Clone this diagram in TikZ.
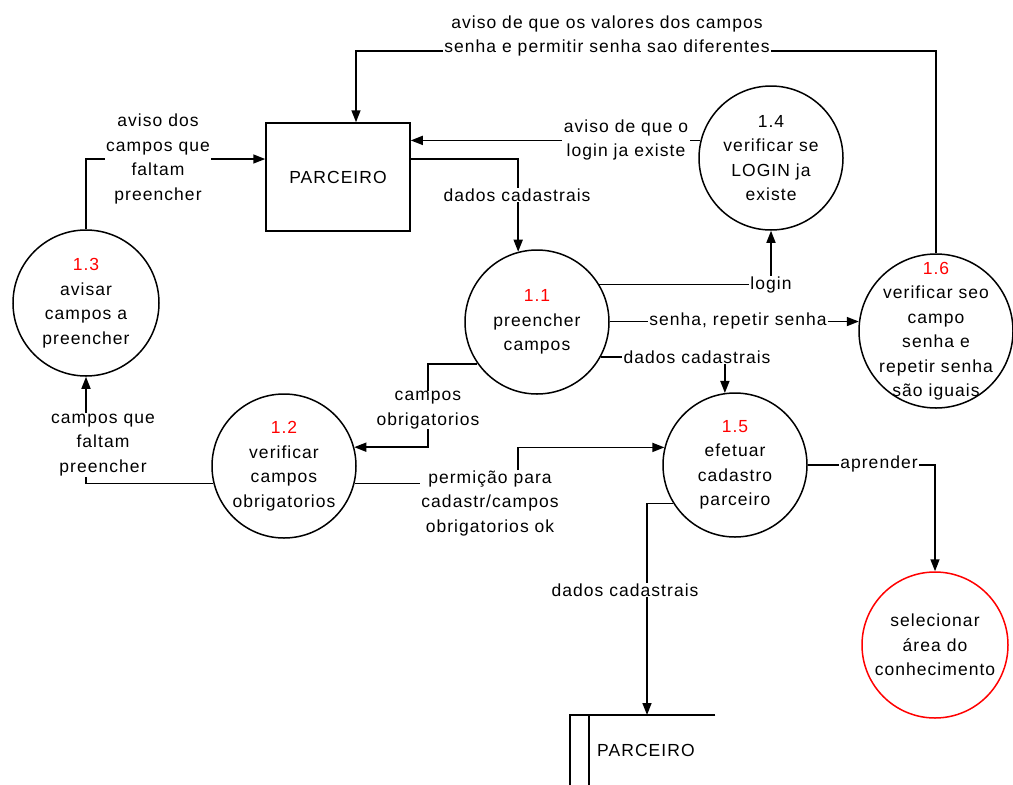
\documentclass[tikz,border=0pt]{standalone}
\usepackage{fontspec}
\setmainfont{Liberation Sans}[LetterSpace=6]
\usetikzlibrary{arrows.meta}
\begin{document}
\begin{tikzpicture}[x=1pt,y=-1pt,
  every node/.style={font=\fontsize{17.5}{24.5}\selectfont},
  proc/.style={circle, draw, line width=1.5pt, minimum size=144pt, inner sep=0pt},
  ptext/.style={align=center, inner sep=0pt},
  flow/.style={line width=1.6pt, -{Triangle[length=12pt,width=9pt]}},
  plain/.style={line width=1.6pt},
  lbl/.style={fill=white, align=center, inner xsep=1.5pt, inner ysep=0.5pt}
]
\useasboundingbox (0,0) rectangle (1013,785);

% external entity
\node[draw, line width=1.5pt, minimum width=144pt, minimum height=108pt] (box) at (338,177) {PARCEIRO};

% processes
\node[proc] (p11) at (537,322) {};
\node[ptext] (t11) at (p11) {\textcolor{red}{1.1}\\preencher\\campos};
\node[proc] (p12) at (284,466) {};
\node[ptext] (t12) at (p12) {\textcolor{red}{1.2}\\verificar\\campos\\obrigatorios};
\node[proc, minimum size=146pt] (p13) at (86,303) {};
\node[ptext] (t13) at (p13) {\textcolor{red}{1.3}\\avisar\\campos a\\preencher};
\node[proc] (p14) at (771,158) {};
\node[ptext] (t14) at (p14) {1.4\\verificar se\\LOGIN ja\\existe};
\node[proc] (p15) at (735,465) {};
\node[ptext] (t15) at (p15) {\textcolor{red}{1.5}\\efetuar\\cadastro\\parceiro};
\node[proc, minimum size=154pt] (p16) at (936,331) {};
\node[ptext] (t16) at (p16) {\textcolor{red}{1.6}\\verificar seo\\campo\\senha e\\repetir senha\\são iguais};
\node[proc, draw=red, minimum size=146pt] (sel) at (935,645) {};
\node[ptext] (tsel) at (sel) {selecionar\\área do\\conhecimento};

% data store
\node[minimum width=145pt, minimum height=70pt, inner sep=0pt, anchor=north west] (store) at (570,715) {};
\draw[plain] (store.north east) -- (store.north west) -- (store.south west);
\draw[plain] ([xshift=19pt]store.north west) -- ([xshift=19pt]store.south west);
\node[anchor=west, inner sep=0pt] (storet) at (597,750) {PARCEIRO};

% helper coordinates for bends
\coordinate (top) at (0,51);
\coordinate (boxin) at ([xshift=18pt]box.north);
\coordinate (k12) at (428,0);
\coordinate (k15) at (518,0);
\coordinate (storein) at ([xshift=77pt]store.north west);

% flows
\draw[flow] (p16.north) |- (top -| boxin) -- (boxin);
\node[lbl] (l1) at (607,36) {aviso de que os valores dos campos\\senha e permitir senha sao diferentes};

\draw[flow] (p14.166) -- (p14.166 -| box.east);
\node[lbl] (l2) at (626,140) {aviso de que o\\login ja existe};

\draw[flow] ([yshift=18pt]box.east) -| (p11.105);
\node[lbl] (l3) at (517,195) {dados cadastrais};

\draw[flow] (p13.north) |- ([yshift=18pt]box.west);
\node[lbl] (l4) at (158,159) {aviso dos\\campos que\\faltam\\preencher};

\draw[flow] (p11.31) -| (p14.south);
\node[lbl] (l5) at (771,285) {login};

\draw[flow] (p11.east |- p16.173) -- (p16.173);
\node[lbl] (l6) at (738,321) {senha, repetir senha};

\draw[flow] (p11.-29) -| (p15.98);
\node[lbl] (l7) at (697,357) {dados cadastrais};

\draw[flow] (p11.215) -| (k12 |- p12.15) -- (p12.15);
\node[lbl] (l8) at (428,410) {campos\\obrigatorios};

\draw[flow] (p12.194) -| (p13.south);
\node[lbl] (l9) at (103,445) {campos que\\faltam\\preencher};

\draw[flow] (p12.-14) -| (k15 |- p15.166) -- (p15.166);
\node[lbl] (l10) at (490,503) {permição para\\cadastr/campos\\obrigatorios ok};

\draw[flow] (p15.212) -| (storein);
\node[lbl] (l11) at (625,590) {dados cadastrais};

\draw[flow] (p15.east) -| (sel.north);
\node[lbl] (l12) at (879,464) {aprender};
\end{tikzpicture}
\end{document}
